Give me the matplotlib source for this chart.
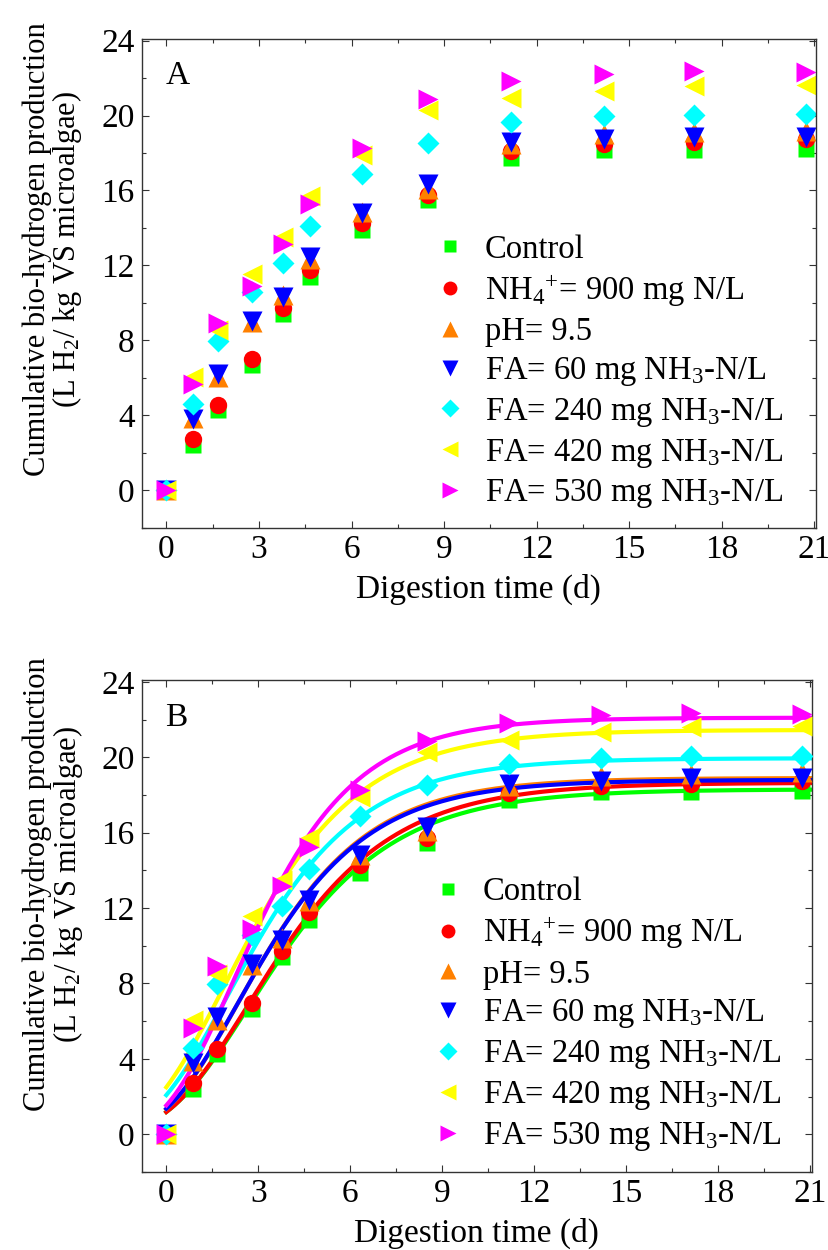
"""Cumulative bio-hydrogen production under ammonia stress (panels A and B)."""

import matplotlib

matplotlib.use("Agg")
import matplotlib.pyplot as plt
import numpy as np
from matplotlib.ticker import MultipleLocator

plt.rcParams["font.family"] = ["Liberation Serif", "DejaVu Serif"]
plt.rcParams["mathtext.fontset"] = "custom"
plt.rcParams["mathtext.rm"] = "Liberation Serif"
plt.rcParams["mathtext.it"] = "Liberation Serif:italic"

days = [0, 0.87, 1.66, 2.78, 3.77, 4.65, 6.33, 8.49, 11.18, 14.19, 17.10, 20.74]

control = [0, 2.4, 4.27, 6.67, 9.42, 11.38, 13.87, 15.47, 17.72, 18.17, 18.17, 18.22]
nh4_900 = [0, 2.7, 4.53, 6.99, 9.72, 11.77, 14.26, 15.73, 18.13, 18.49, 18.58, 18.75]
ph_95 = [0, 3.87, 6.04, 8.98, 10.4, 12.36, 14.84, 16.09, 18.49, 19.02, 19.11, 19.2]
fa_60 = [0, 3.8, 6.22, 9.03, 10.31, 12.44, 14.79, 16.32, 18.58, 18.75, 18.88, 18.88]
fa_240 = [0, 4.59, 7.96, 10.58, 12.12, 14.08, 16.89, 18.52, 19.64, 19.95, 20.05, 20.09]
fa_420 = [0, 6.04, 8.53, 11.56, 13.51, 15.7, 17.87, 20.3, 20.92, 21.33, 21.6, 21.64]
fa_530 = [0, 5.65, 8.94, 10.88, 13.16, 15.25, 18.28, 20.89, 21.83, 22.22, 22.36, 22.31]

labels = [
    "Control",
    r"NH$_4$$^{+}$= 900 mg N/L",
    "pH= 9.5",
    r"FA= 60 mg NH$_3$-N/L",
    r"FA= 240 mg NH$_3$-N/L",
    r"FA= 420 mg NH$_3$-N/L",
    r"FA= 530 mg NH$_3$-N/L",
]

# modified Gompertz fit: P (L/kg VS), Rm (L/kg VS/d), lambda (d)
gomp_p = [18.3, 18.65, 18.9, 18.8, 19.95, 21.45, 22.1]
gomp_rm = [2.54, 2.61, 2.9, 2.88, 3.0, 3.18, 3.65]
gomp_lag = [0.02, 0.04, -0.06, -0.08, -0.45, -0.58, -0.04]

series = [control, nh4_900, ph_95, fa_60, fa_240, fa_420, fa_530]
colors = ["#00ff00", "#ff0000", "#ff8000", "#0000ff", "#00ffff", "#ffff00", "#ff00ff"]
markers = ["s", "o", "^", "v", "D", "<", ">"]
msizes = [11, 12.5, 14, 14, 11.5, 14, 14]


def gompertz(t, p, rm, lag):
    return p * np.exp(-np.exp(rm * np.e / p * (lag - t) + 1))


def style_axes(ax, letter, label_y):
    ax.set_xlim(-0.8, 21.05)
    ax.set_ylim(-2, 24.1)
    ax.xaxis.set_major_locator(MultipleLocator(3))
    ax.xaxis.set_minor_locator(MultipleLocator(1.5))
    ax.yaxis.set_major_locator(MultipleLocator(4))
    ax.yaxis.set_minor_locator(MultipleLocator(2))
    ax.tick_params(which="both", direction="in", top=True, right=True, labelsize=24, colors="#333333", labelcolor="black")
    ax.tick_params(which="major", length=5, width=0.8, pad=5)
    ax.tick_params(which="minor", length=3, width=0.8)
    for spine in ax.spines.values():
        spine.set_linewidth(1.0)
        spine.set_color("#333333")
    ax.set_xlabel("Digestion time (d)", fontsize=24, labelpad=6)
    ax.set_ylabel("Cumulative bio-hydrogen production\n(L H$_2$/ kg VS microalgae)", fontsize=22, linespacing=0.95)
    ax.yaxis.set_label_coords(-0.085, label_y)
    ax.text(0.035, 0.955, letter, transform=ax.transAxes, fontsize=24, va="top", ha="left")
    ax.legend(
        loc="upper left", bbox_to_anchor=(0.433, 0.60), frameon=False, fontsize=23.5,
        handlelength=1.0, handletextpad=0.56, labelspacing=0.24, markerscale=0.8, borderpad=0,
        borderaxespad=0,
    )


fig = plt.figure(figsize=(8.29, 12.5), dpi=100)
ax_a = fig.add_axes([0.171, 0.578, 0.813, 0.391])
ax_b = fig.add_axes([0.171, 0.0624, 0.808, 0.3936])

t_fit = np.linspace(0, 21, 300)
for i, values in enumerate(series):
    ax_a.plot(days, values, ls="none", marker=markers[i], ms=msizes[i], color=colors[i], mec="none", label=labels[i])
for i, values in enumerate(series):
    ax_b.plot(t_fit, gompertz(t_fit, gomp_p[i], gomp_rm[i], gomp_lag[i]), color=colors[i], lw=3, zorder=2)
for i, values in enumerate(series):
    ax_b.plot(days, values, ls="none", marker=markers[i], ms=msizes[i], color=colors[i], mec="none", label=labels[i], zorder=3)

style_axes(ax_a, "A", 0.57)
style_axes(ax_b, "B", 0.585)

fig.savefig("out.png", dpi=100)
